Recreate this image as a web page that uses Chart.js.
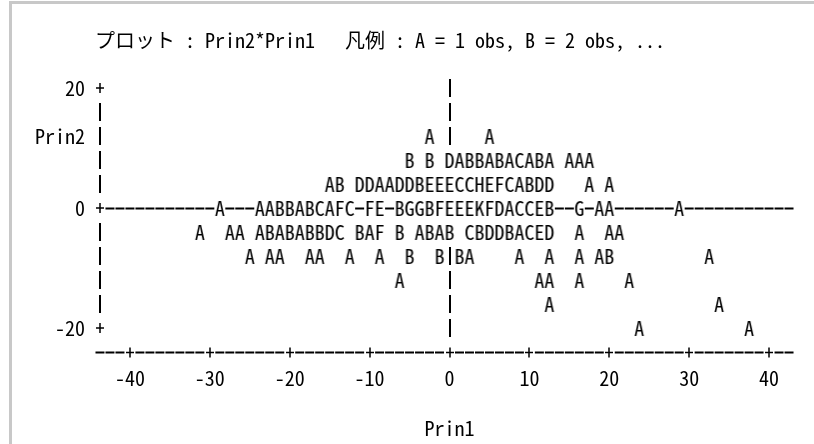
<!DOCTYPE html>
<html>
<head>
<meta charset="utf-8">
<script src="https://cdn.jsdelivr.net/npm/chart.js@4.4.1/dist/chart.umd.min.js"></script>
<style>
    body { margin: 0; background: #fff; }
    #wrap { position: relative; width: 814px; height: 444px; overflow: hidden; }
    #plot { position: absolute; left: 0; top: 0; }
    .edge { position: absolute; background: #c8c8c8; }
</style>
</head>
<body>
<div id="wrap">
    <canvas id="plot" width="814" height="444"></canvas>
    <div class="edge" style="left:9px;top:1px;width:805px;height:3px"></div>
    <div class="edge" style="left:9px;top:1px;width:3px;height:443px"></div>
</div>
<script>
const FONT = "'Noto Sans Mono CJK JP', 'Noto Sans CJK JP', 'Liberation Mono', monospace";

const titleText = 'プロット : Prin2*Prin1   凡例 : A = 1 obs, B = 2 obs, ...';
const xTickValues = [-40, -30, -20, -10, 0, 10, 20, 30, 40];
const yTickValues = [20, 0, -20];
const rowValues = [20, 16, 12, 8, 4, 0, -4, -8, -12, -16, -20];

// one print column = 1.25 Prin1 units; the printed axes run from column 0 to 69
const printStep = 1.25;
const axisFirst = -43.75;
const axisLast = 42.5;
const baseRow = -24; // row of the printed horizontal axis

// Prin2 of each printed row and the symbol runs on it: [Prin1 of first symbol, symbols]
// A = 1 obs, B = 2 obs, ...
const prin2Rows = [12, 8, 4, 0, -4, -8, -12, -16, -20];
const symbolRuns = [
    [[-2.5, 'A'], [5, 'A']],
    [[-5, 'B'], [-2.5, 'B'], [0, 'DABBABACABA'], [15, 'AAA']],
    [[-15, 'AB'], [-11.25, 'DDAADDBEEECCHEFCABDD'], [17.5, 'A'], [20, 'A']],
    [[-28.75, 'A'], [-23.75, 'AABBABCAFC'], [-10, 'FE'], [-6.25, 'BGGBFEEEKFDACCEB'], [16.25, 'G'], [18.75, 'AA'], [28.75, 'A']],
    [[-31.25, 'A'], [-27.5, 'AA'], [-23.75, 'ABABABBDC'], [-11.25, 'BAF'], [-6.25, 'B'], [-3.75, 'ABAB'], [2.5, 'CBDDBACED'], [16.25, 'A'], [20, 'AA']],
    [[-25, 'A'], [-22.5, 'AA'], [-17.5, 'AA'], [-12.5, 'A'], [-8.75, 'A'], [-5, 'B'], [-1.25, 'B'], [1.25, 'BA'], [8.75, 'A'], [12.5, 'A'], [16.25, 'A'], [18.75, 'AB'], [32.5, 'A']],
    [[-6.25, 'A'], [11.25, 'AA'], [16.25, 'A'], [22.5, 'A']],
    [[12.5, 'A'], [33.75, 'A']],
    [[23.75, 'A'], [37.5, 'A']]
];

// expand the runs into points
const points = [];
const used = {};
prin2Rows.forEach(function(p2, i) {
    symbolRuns[i].forEach(function(run) {
        for (let k = 0; k < run[1].length; k++) {
            const p1 = run[0] + k * printStep;
            points.push({ x: p1, y: p2, s: run[1][k] });
            used[Math.round(p1 / printStep) + ',' + p2] = true;
        }
    });
});

// one little canvas per letter, used as the point style
const glyphs = {};
function glyph(ch) {
    if (!glyphs[ch]) {
        const c = document.createElement('canvas');
        c.width = 14; c.height = 24;
        const g = c.getContext('2d');
        g.font = '20px ' + FONT;
        g.fillStyle = '#000';
        g.textAlign = 'center';
        g.textBaseline = 'middle';
        g.fillText(ch, 7, 12);
        glyphs[ch] = c;
    }
    return glyphs[ch];
}

// the line printer frame: | + and - characters
const printedAxes = {
    id: 'printedAxes',
    beforeDatasetsDraw(chart) {
        const ctx = chart.ctx;
        const x = chart.scales.x, y = chart.scales.y;
        ctx.save();
        ctx.strokeStyle = '#000';

        function bar(px, py) {
            ctx.lineWidth = 2;
            ctx.beginPath(); ctx.moveTo(px, py - 9); ctx.lineTo(px, py + 9); ctx.stroke();
        }
        function dash(px, py) {
            ctx.lineWidth = 2;
            ctx.beginPath(); ctx.moveTo(px - 4.5, py); ctx.lineTo(px + 4.5, py); ctx.stroke();
        }
        function plus(px, py) {
            ctx.lineWidth = 1.5;
            ctx.beginPath();
            ctx.moveTo(px - 4, py); ctx.lineTo(px + 4, py);
            ctx.moveTo(px, py - 5); ctx.lineTo(px, py + 5);
            ctx.stroke();
        }

        const left = Math.round(x.getPixelForValue(axisFirst));
        const zero = Math.round(x.getPixelForValue(0));
        rowValues.forEach(function(r) {
            const py = Math.round(y.getPixelForValue(r));
            if (yTickValues.indexOf(r) >= 0) plus(left, py); else bar(left, py);
            if (!used['0,' + r]) bar(zero, py);
        });

        // horizontal reference line at Prin2 = 0
        const py0 = Math.round(y.getPixelForValue(0)) + 0.5;
        for (let v = axisFirst + printStep; v <= axisLast + 0.01; v += printStep) {
            if (!used[Math.round(v / printStep) + ',0']) dash(x.getPixelForValue(v), py0);
        }

        // bottom axis with tick marks
        const pyb = Math.round(y.getPixelForValue(baseRow)) + 0.5;
        for (let v = axisFirst; v <= axisLast + 0.01; v += printStep) {
            const px = x.getPixelForValue(v);
            if (xTickValues.some(t => Math.abs(t - v) < 0.7)) {
                plus(Math.round(x.getPixelForValue(Math.round(v / 10) * 10)), pyb);
            } else {
                dash(px, pyb);
            }
        }
        ctx.restore();
    },
    afterDraw(chart) {
        const ctx = chart.ctx;
        const y = chart.scales.y;
        ctx.save();
        ctx.fillStyle = '#000';
        ctx.font = '20px ' + FONT;
        ctx.textBaseline = 'middle';
        ctx.textAlign = 'left';
        ctx.fillText(titleText, 95, 40);
        ctx.textAlign = 'right';
        ctx.fillText('Prin2', 85, y.getPixelForValue(12));
        ctx.restore();
    }
};

new Chart(document.getElementById('plot'), {
    type: 'scatter',
    data: {
        datasets: [{
            data: points,
            pointStyle: ctx => glyph(ctx.raw ? ctx.raw.s : 'A'),
            pointRadius: 5,
            borderWidth: 0
        }]
    },
    options: {
        responsive: false,
        animation: false,
        events: [],
        devicePixelRatio: 1,
        layout: { padding: { top: 82, right: 2, left: 0, bottom: 0 } },
        plugins: { legend: { display: false }, tooltip: { enabled: false }, title: { display: false } },
        scales: {
            x: {
                type: 'linear',
                min: -45,
                max: 45,
                afterBuildTicks: s => { s.ticks = xTickValues.map(v => ({ value: v })); },
                afterFit: s => { s.height = 92; },
                grid: { display: false, drawTicks: false },
                border: { display: false },
                ticks: { padding: 14, color: '#000', font: { family: FONT, size: 20 }, maxRotation: 0, autoSkip: false },
                title: { display: true, text: 'Prin1', color: '#000', font: { family: FONT, size: 20 }, padding: { top: 0, bottom: 4 } }
            },
            y: {
                type: 'linear',
                min: baseRow,
                max: 21,
                afterBuildTicks: s => { s.ticks = yTickValues.map(v => ({ value: v })); },
                afterFit: s => { s.width = 90; },
                grid: { display: false, drawTicks: false },
                border: { display: false },
                ticks: { padding: 5, color: '#000', font: { family: FONT, size: 20 } }
            }
        }
    },
    plugins: [printedAxes]
});
</script>
</body>
</html>
